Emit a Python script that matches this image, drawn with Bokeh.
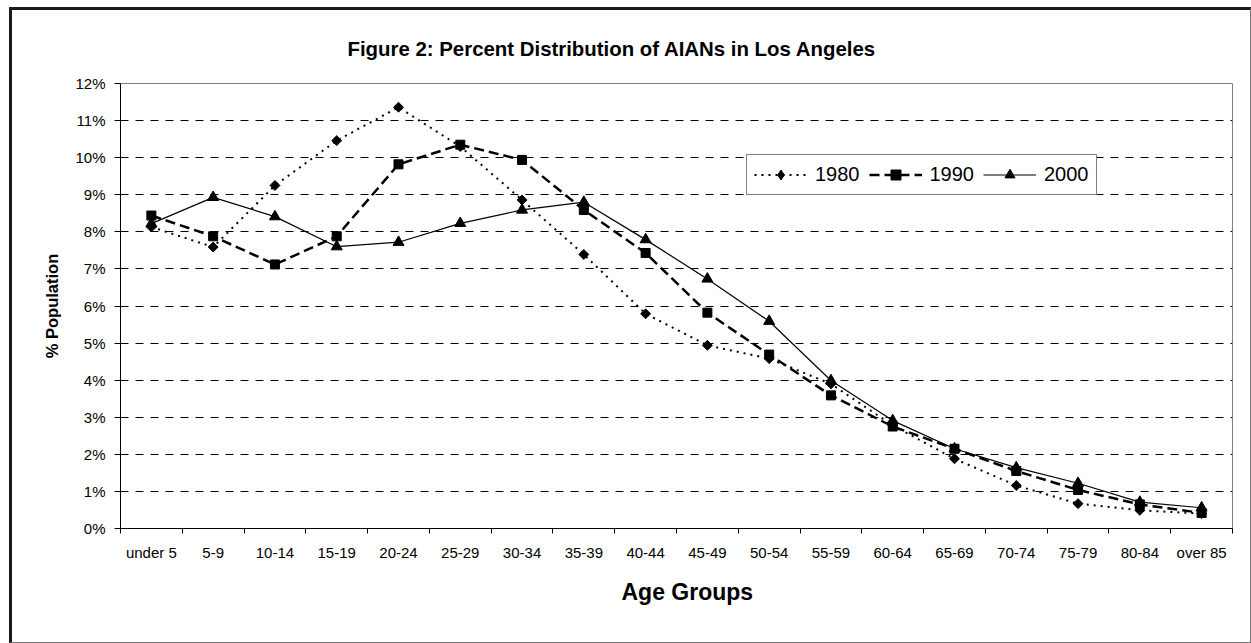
import numpy as np
from bokeh.plotting import figure
from bokeh.models import (ColumnDataSource, Range1d, FixedTicker, PrintfTickFormatter,
                          Legend, LegendItem, Title)
from bokeh.embed import file_html
from bokeh.resources import INLINE

categories = ["under 5", "5-9", "10-14", "15-19", "20-24", "25-29", "30-34", "35-39",
              "40-44", "45-49", "50-54", "55-59", "60-64", "65-69", "70-74", "75-79",
              "80-84", "over 85"]
pct_1980 = [8.13, 7.59, 9.25, 10.46, 11.36, 10.30, 8.86, 7.39, 5.79, 4.94, 4.58, 3.90,
            2.78, 1.88, 1.16, 0.67, 0.49, 0.40]
pct_1990 = [8.44, 7.88, 7.12, 7.88, 9.82, 10.35, 9.94, 8.59, 7.43, 5.82, 4.69, 3.59,
            2.75, 2.15, 1.55, 1.04, 0.65, 0.42]
pct_2000 = [8.22, 8.93, 8.41, 7.60, 7.72, 8.23, 8.59, 8.80, 7.79, 6.73, 5.59, 3.99,
            2.91, 2.15, 1.64, 1.22, 0.71, 0.56]
series_names = ["1980", "1990", "2000"]
y_ticks = list(range(0, 13))

FONT = "Liberation Sans"
n = len(categories)
x = np.arange(n) + 0.5
src = ColumnDataSource(dict(x=x, y1980=pct_1980, y1990=pct_1990, y2000=pct_2000))
# legend-only source: a single undrawable (NaN) point
legend_only = ColumnDataSource(dict(x=[np.nan], y=[np.nan]))

p = figure(width=1238, height=632, output_backend="svg", toolbar_location=None,
           x_range=Range1d(0, n), y_range=Range1d(0, 12),
           min_border_left=108, min_border_top=73, min_border_right=18, min_border_bottom=114,
           frame_width=1112, frame_height=445)
p.styles = {"margin-left": "9px", "margin-top": "7px",
            "border-top": "3px solid #1a1a1a", "border-left": "3px solid #1a1a1a",
            "border-right": "1px solid #777777", "border-bottom": "1px solid #777777"}
p.background_fill_color = "white"
p.border_fill_color = "white"
p.outline_line_color = "#808080"
p.outline_line_width = 1

p.title.text = "Figure 2: Percent Distribution of AIANs in Los Angeles"
p.title.text_font = FONT
p.title.text_font_style = "bold"
p.title.text_font_size = "20.4px"
p.title.text_color = "black"
p.title.align = "left"
p.title.offset = 227
p.title.standoff = 48

# y axis
p.yaxis.ticker = FixedTicker(ticks=y_ticks)
p.yaxis.formatter = PrintfTickFormatter(format="%d%%")
p.yaxis.major_tick_out = 6
p.yaxis.major_tick_in = 0
p.yaxis.minor_tick_out = 0
p.yaxis.minor_tick_in = 0
p.yaxis.axis_line_color = "black"
p.yaxis.major_tick_line_color = "black"
p.yaxis.major_label_text_font = FONT
p.yaxis.major_label_text_font_size = "15px"
p.yaxis.major_label_text_color = "black"
p.yaxis.major_label_standoff = 9
p.yaxis.axis_label = "% Population"
p.yaxis.axis_label_text_font = FONT
p.yaxis.axis_label_text_font_style = "bold"
p.yaxis.axis_label_text_font_size = "16.5px"
p.yaxis.axis_label_text_color = "black"
p.yaxis.axis_label_standoff = 11

# x axis
p.xaxis.ticker = FixedTicker(ticks=list(x), minor_ticks=list(range(0, n + 1)))
p.xaxis.major_label_overrides = {float(v): c for v, c in zip(x, categories)}
p.xaxis.major_tick_out = 0
p.xaxis.major_tick_in = 0
p.xaxis.minor_tick_out = 5
p.xaxis.minor_tick_in = 0
p.xaxis.minor_tick_line_color = "black"
p.xaxis.axis_line_color = "black"
p.xaxis.major_label_text_font = FONT
p.xaxis.major_label_text_font_size = "15px"
p.xaxis.major_label_text_color = "black"
p.xaxis.major_label_standoff = 10

# x axis title, slightly right of centre as in the original
x_title = Title(text="Age Groups", text_font=FONT, text_font_style="bold",
                text_font_size="23px", text_color="black", align="left",
                offset=501, standoff=26)
p.add_layout(x_title, "below")

p.xgrid.visible = False
p.ygrid.ticker = FixedTicker(ticks=y_ticks[1:-1])
p.ygrid.grid_line_color = "black"
p.ygrid.grid_line_dash = "8 7"
p.ygrid.grid_line_width = 1

# series
l80 = p.line("x", "y1980", source=src, color="black", line_width=2, line_dash="2 5")
p.scatter("x", "y1980", source=src, marker="square", angle=np.pi / 4, size=7,
          color="black")
d80 = p.scatter("x", "y", source=legend_only, marker="diamond", size=12, color="black")
l90 = p.line("x", "y1990", source=src, color="black", line_width=2.5, line_dash="10 5")
s90 = p.scatter("x", "y1990", source=src, marker="square", size=9, color="black")
l00 = p.line("x", "y2000", source=src, color="black", line_width=1.2)
s00 = p.scatter("x", "y2000", source=src, marker="triangle", size=11, color="black")

lg = Legend(items=[LegendItem(label=series_names[0], renderers=[l80, d80]),
                   LegendItem(label=series_names[1], renderers=[l90, s90]),
                   LegendItem(label=series_names[2], renderers=[l00, s00])])
lg.location = (626, 333)
lg.orientation = "horizontal"
lg.border_line_color = "black"
lg.border_line_width = 1
lg.background_fill_color = "white"
lg.background_fill_alpha = 1
lg.label_text_font = FONT
lg.label_text_font_size = "20px"
lg.label_text_color = "black"
lg.glyph_width = 53
lg.glyph_height = 25
lg.label_height = 25
lg.label_standoff = 8
lg.spacing = 9
lg.padding = 7
lg.margin = 0
p.add_layout(lg, "center")

open("out.html", "w").write(file_html(p, INLINE))
